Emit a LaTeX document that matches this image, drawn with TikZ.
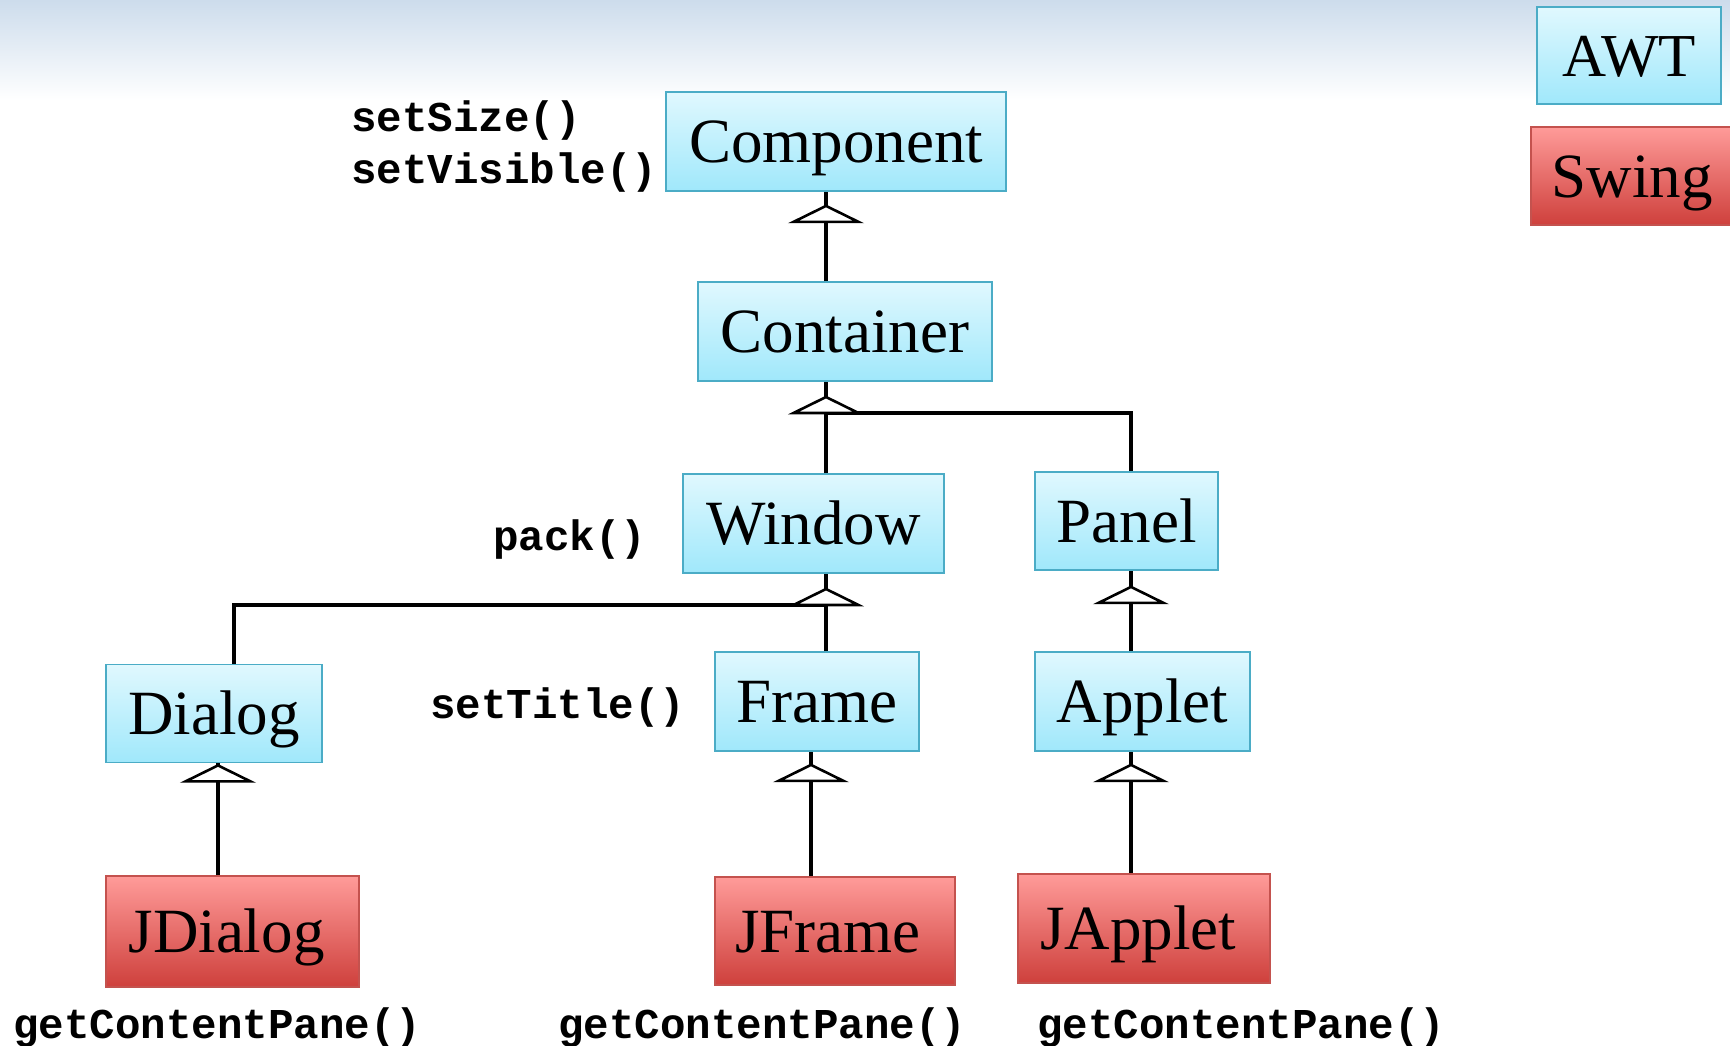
\documentclass[tikz,border=0pt]{standalone}
\usepackage{fontspec}
\setmainfont{Liberation Serif}
\setmonofont{Liberation Mono}
\usetikzlibrary{calc}
\definecolor{awttop}{RGB}{224,248,254}
\definecolor{awtbot}{RGB}{160,232,251}
\definecolor{awtline}{RGB}{75,172,198}
\definecolor{swtop}{RGB}{255,155,153}
\definecolor{swbot}{RGB}{206,64,60}
\definecolor{swline}{RGB}{196,82,78}
\definecolor{bgtop}{RGB}{205,220,236}
\tikzset{
  awtbox/.style={draw=awtline, line width=1.8pt, top color=awttop, bottom color=awtbot,
    inner sep=0pt, font=\fontsize{63pt}{70pt}\selectfont, text height=42pt, text depth=0pt},
  swingbox/.style={draw=swline, line width=1.8pt, top color=swtop, bottom color=swbot,
    inner sep=0pt, font=\fontsize{63pt}{70pt}\selectfont, text height=42pt, text depth=0pt},
  meth/.style={font=\ttfamily\bfseries\fontsize{42.5pt}{48pt}\selectfont, inner sep=0pt, anchor=west},
  conn/.style={line width=3.2pt, black},
  inh/.pic={\draw[line width=2.6pt, fill=white, line join=miter] (-32.5,0) -- (0,-16) -- (32.5,0) -- cycle;}
}
\begin{document}
\begin{tikzpicture}[x=1pt,y=-1pt]
\useasboundingbox (0,0) rectangle (1730,1045);
\fill[top color=bgtop, bottom color=white] (0,0) rectangle (1730,100);

% AWT boxes
\node[awtbox, minimum width=340pt, minimum height=99pt] (component) at (836,141.5) {Component};
\node[awtbox, minimum width=294pt, minimum height=99pt] (container) at (845,331.5) {Container};
\node[awtbox, minimum width=261pt, minimum height=99pt] (window) at (813.5,523.5) {Window};
\node[awtbox, minimum width=183pt, minimum height=98pt] (panel) at (1126.5,521) {Panel};
\node[awtbox, minimum width=216pt, minimum height=98pt] (dialog) at (214,713.5) {Dialog};
\node[awtbox, minimum width=204pt, minimum height=99pt] (frame) at (817,701.5) {Frame};
\node[awtbox, minimum width=215pt, minimum height=99pt] (applet) at (1142.5,701.5) {Applet};
% Swing boxes
\node[swingbox, minimum width=253pt, minimum height=111pt] (jdialog) at (232.5,931.5) {JDialog\kern12pt};
\node[swingbox, minimum width=240pt, minimum height=108pt] (jframe) at (835,931) {JFrame\kern14pt};
\node[swingbox, minimum width=252pt, minimum height=109pt] (japplet) at (1144,928.5) {JApplet\kern12pt};
% legend
\node[awtbox, minimum width=184pt, minimum height=97pt, font=\fontsize{61pt}{68pt}\selectfont] (awt) at (1629,55.5) {AWT};
\node[swingbox, minimum width=210pt, minimum height=98pt] (swing) at (1636,176) {Swing\kern8pt};

% method labels
\node[meth] (msize) at (351,121) {setSize()};
\node[meth] (mvis) at (351,173) {setVisible()};
\node[meth] (mpack) at (493,540) {pack()};
\node[meth] (mtitle) at (430,708) {setTitle()};
\node[meth] (gcp1) at (13,1028) {getContentPane()};
\node[meth] (gcp2) at (558,1028) {getContentPane()};
\node[meth] (gcp3) at (1037,1028) {getContentPane()};

% fork points and line positions
\coordinate (f1) at (826,413);
\coordinate (c3) at (1131,413);
\coordinate (f2) at (826,605);
\coordinate (d1) at (234,605);
\coordinate (fx) at (811,0);
\coordinate (dx) at (218,0);

% connectors
\draw[conn] (container.north -| f1) -- (component.south -| f1);
\draw[conn] (window.north -| f1) -- (container.south -| f1);
\draw[conn] (panel.north -| c3) -- (c3) -- (f1);
\draw[conn] (frame.north -| f2) -- (window.south -| f2);
\draw[conn] (dialog.north -| d1) -- (d1) -- (f2);
\draw[conn] (applet.north -| c3) -- (panel.south -| c3);
\draw[conn] (jdialog.north -| dx) -- (dialog.south -| dx);
\draw[conn] (jframe.north -| fx) -- (frame.south -| fx);
\draw[conn] (japplet.north -| c3) -- (applet.south -| c3);

% inheritance triangles
\pic at ($(component.south -| f1)+(0,30)$) {inh};
\pic at (f1) {inh};
\pic at (f2) {inh};
\pic at ($(panel.south -| c3)+(0,32)$) {inh};
\pic at ($(dialog.south -| dx)+(0,18)$) {inh};
\pic at ($(frame.south -| fx)+(0,29)$) {inh};
\pic at ($(applet.south -| c3)+(0,29)$) {inh};
\end{tikzpicture}
\end{document}
